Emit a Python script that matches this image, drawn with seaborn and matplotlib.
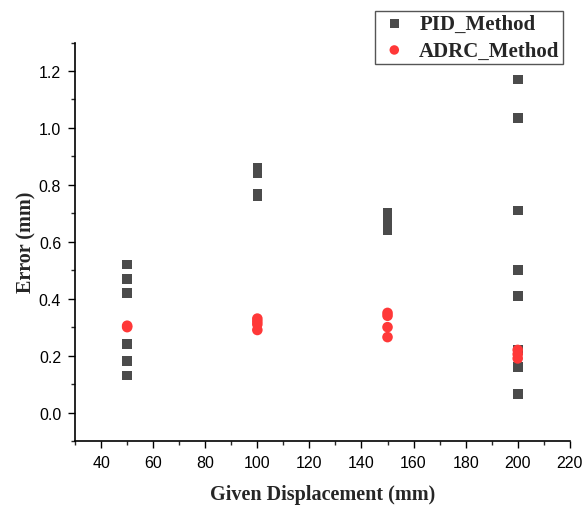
import matplotlib
matplotlib.use('Agg')
import matplotlib.pyplot as plt
from matplotlib.ticker import MultipleLocator
import pandas as pd
import seaborn as sns

# Data
pid_x = [50, 50, 50, 50, 50, 50,
         100, 100, 100, 100,
         150, 150, 150, 150,
         200, 200, 200, 200, 200, 200, 200, 200]
pid_err = [0.52, 0.47, 0.42, 0.24, 0.18, 0.13,
           0.86, 0.84, 0.77, 0.76,
           0.70, 0.68, 0.66, 0.64,
           1.17, 1.035, 0.71, 0.50, 0.41, 0.22, 0.16, 0.065]

adrc_x = [50, 50, 100, 100, 100, 100, 150, 150, 150, 150, 200, 200, 200]
adrc_err = [0.30, 0.305, 0.33, 0.32, 0.31, 0.29, 0.35, 0.34, 0.30, 0.265, 0.22, 0.205, 0.19]

PID_COLOR = '#4b4b4b'
ADRC_COLOR = '#ff3838'

pid_df = pd.DataFrame({'x': pid_x, 'err': pid_err})
adrc_df = pd.DataFrame({'x': adrc_x, 'err': adrc_err})

sns.set_style('ticks')
plt.rcParams['font.family'] = ['Liberation Sans', 'DejaVu Sans']

fig = plt.figure(figsize=(5.82, 5.06), dpi=100)
ax = fig.add_axes([0.129, 0.1265, 0.85, 0.7875])

sns.scatterplot(data=pid_df, x='x', y='err', ax=ax, marker='s', s=48,
                color=PID_COLOR, edgecolor='none', label='PID_Method', zorder=3)
sns.scatterplot(data=adrc_df, x='x', y='err', ax=ax, marker='o', s=58,
                color=ADRC_COLOR, edgecolor='none', label='ADRC_Method', zorder=4)

ax.set_xlim(30, 220)
ax.set_ylim(-0.1, 1.3)
ax.xaxis.set_minor_locator(MultipleLocator(10))
ax.yaxis.set_minor_locator(MultipleLocator(0.1))
ax.set_xticks(range(40, 221, 20))
ax.set_yticks([0.0, 0.2, 0.4, 0.6, 0.8, 1.0, 1.2])
ax.yaxis.set_major_formatter(plt.FuncFormatter(lambda v, p: f'{v:.1f}'))

ax.tick_params(which='major', direction='out', length=5, width=1, labelsize=11.5,
               colors='black', pad=5)
ax.tick_params(which='minor', direction='out', length=3, width=1)
for s in ['top', 'right']:
    ax.spines[s].set_visible(False)
for s in ['left', 'bottom']:
    ax.spines[s].set_linewidth(1.2)
    ax.spines[s].set_color('black')

ax.set_xlabel('Given Displacement (mm)', family='Liberation Serif', fontweight='bold',
              fontsize=14.5, labelpad=10)
ax.set_ylabel('Error (mm)', family='Liberation Serif', fontweight='bold',
              fontsize=14.5, labelpad=2)

handles, labels = ax.get_legend_handles_labels()
ax.get_legend().remove()
leg = fig.legend(handles, labels, loc='upper right', bbox_to_anchor=(0.967, 0.977),
                 borderaxespad=0, fancybox=False, framealpha=1, edgecolor='#555555',
                 prop={'family': 'Liberation Serif', 'weight': 'bold', 'size': 15},
                 handletextpad=0.4, borderpad=0.15, labelspacing=0.32, handlelength=1.6,
                 markerscale=0.9)
leg.get_frame().set_linewidth(1.0)

fig.savefig('out.png', dpi=100)
